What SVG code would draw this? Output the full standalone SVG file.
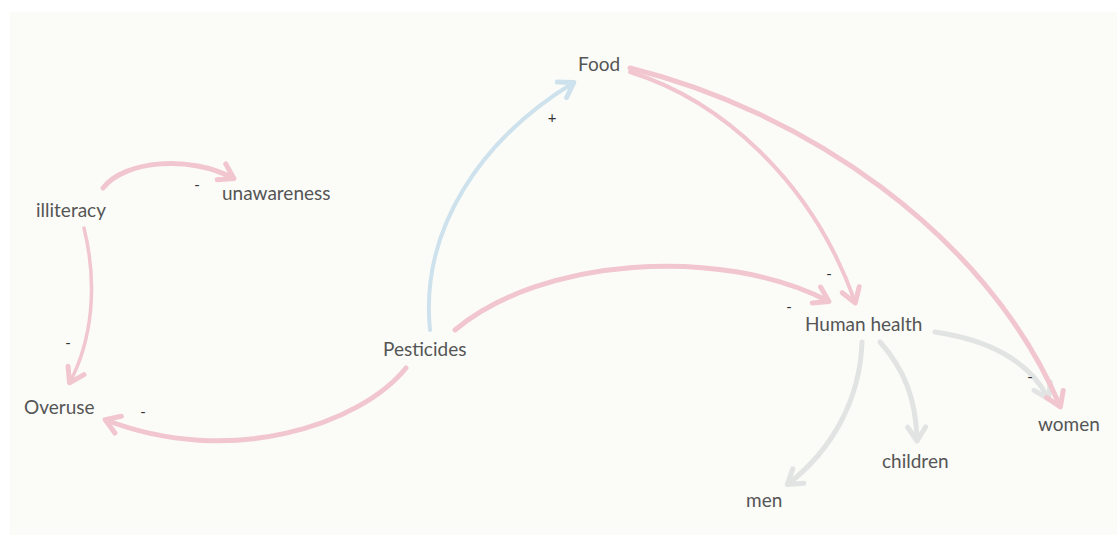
<svg xmlns="http://www.w3.org/2000/svg" width="1117" height="535" viewBox="0 0 1117 535">
<style>
.lbl{font-family:Lato,"Liberation Sans",sans-serif;font-size:19px;fill:#555}
.sg{font-family:Lato,"Liberation Sans",sans-serif;font-size:15px;fill:#333;text-anchor:middle}
.e{fill:none;stroke-linecap:round}
.pk{stroke:#f1c6cf}
.bl{stroke:#cde2ec}
.gr{stroke:#e2e3e3}
</style>
<defs>
<marker id="ap" viewBox="0 0 24 24" refX="17" refY="12" markerWidth="24" markerHeight="24" markerUnits="userSpaceOnUse" orient="auto"><path d="M4,3 L18,12 L4,21" fill="none" stroke="#f1c6cf" stroke-width="5" stroke-linejoin="round" stroke-linecap="round"/></marker>
<marker id="ab" viewBox="0 0 24 24" refX="17" refY="12" markerWidth="24" markerHeight="24" markerUnits="userSpaceOnUse" orient="auto"><path d="M4,3 L18,12 L4,21" fill="none" stroke="#cde2ec" stroke-width="5" stroke-linejoin="round" stroke-linecap="round"/></marker>
<marker id="ag" viewBox="0 0 24 24" refX="17" refY="12" markerWidth="24" markerHeight="24" markerUnits="userSpaceOnUse" orient="auto"><path d="M4,3 L18,12 L4,21" fill="none" stroke="#e2e3e3" stroke-width="5" stroke-linejoin="round" stroke-linecap="round"/></marker>
</defs>
<rect x="0" y="0" width="1117" height="535" fill="#ffffff"/>
<rect x="10" y="12" width="1107" height="523" fill="#fbfcf8"/>
<g id="connectors">
<path class="e gr" stroke-width="5" d="M935,332 C990,340 1030,362 1048,398" marker-end="url(#ag)"/>
<path class="e gr" stroke-width="5" d="M880,342 C905,370 916,400 917,440" marker-end="url(#ag)"/>
<path class="e gr" stroke-width="5" d="M862,342 C860,400 832,450 788,484" marker-end="url(#ag)"/>
<path class="e pk" stroke-width="5" d="M103,188 C125,160 190,155 233,178" marker-end="url(#ap)"/>
<path class="e pk" stroke-width="3.5" d="M84,228 C98,285 92,340 70,382" marker-end="url(#ap)"/>
<path class="e pk" stroke-width="5" d="M406,368 C360,425 230,468 106,420" marker-end="url(#ap)"/>
<path class="e bl" stroke-width="4" d="M430,330 C420,230 480,140 573,83" marker-end="url(#ab)"/>
<path class="e pk" stroke-width="5" d="M455,330 C540,258 720,245 828,301" marker-end="url(#ap)"/>
<path class="e pk" stroke-width="4" d="M630,72 C720,100 812,180 855,302" marker-end="url(#ap)"/>
<path class="e pk" stroke-width="5" d="M630,68 C800,110 985,230 1060,406" marker-end="url(#ap)"/>
<text class="sg" x="197" y="190">-</text>
<text class="sg" x="68" y="348">-</text>
<text class="sg" x="143" y="417">-</text>
<text class="sg" x="552" y="123">+</text>
<text class="sg" x="829" y="279">-</text>
<text class="sg" x="789" y="312">-</text>
<text class="sg" x="1030" y="382">-</text>
</g>
<g id="node-food"><text class="lbl" x="578" y="71">Food</text></g>
<g id="node-illiteracy"><text class="lbl" x="36" y="217">illiteracy</text></g>
<g id="node-unawareness"><text class="lbl" x="222" y="200">unawareness</text></g>
<g id="node-overuse"><text class="lbl" x="24" y="414">Overuse</text></g>
<g id="node-pesticides"><text class="lbl" x="383" y="356">Pesticides</text></g>
<g id="node-human-health"><text class="lbl" x="805" y="331">Human health</text></g>
<g id="node-women"><text class="lbl" x="1038" y="431">women</text></g>
<g id="node-children"><text class="lbl" x="882" y="468">children</text></g>
<g id="node-men"><text class="lbl" x="746" y="507">men</text></g>
</svg>
